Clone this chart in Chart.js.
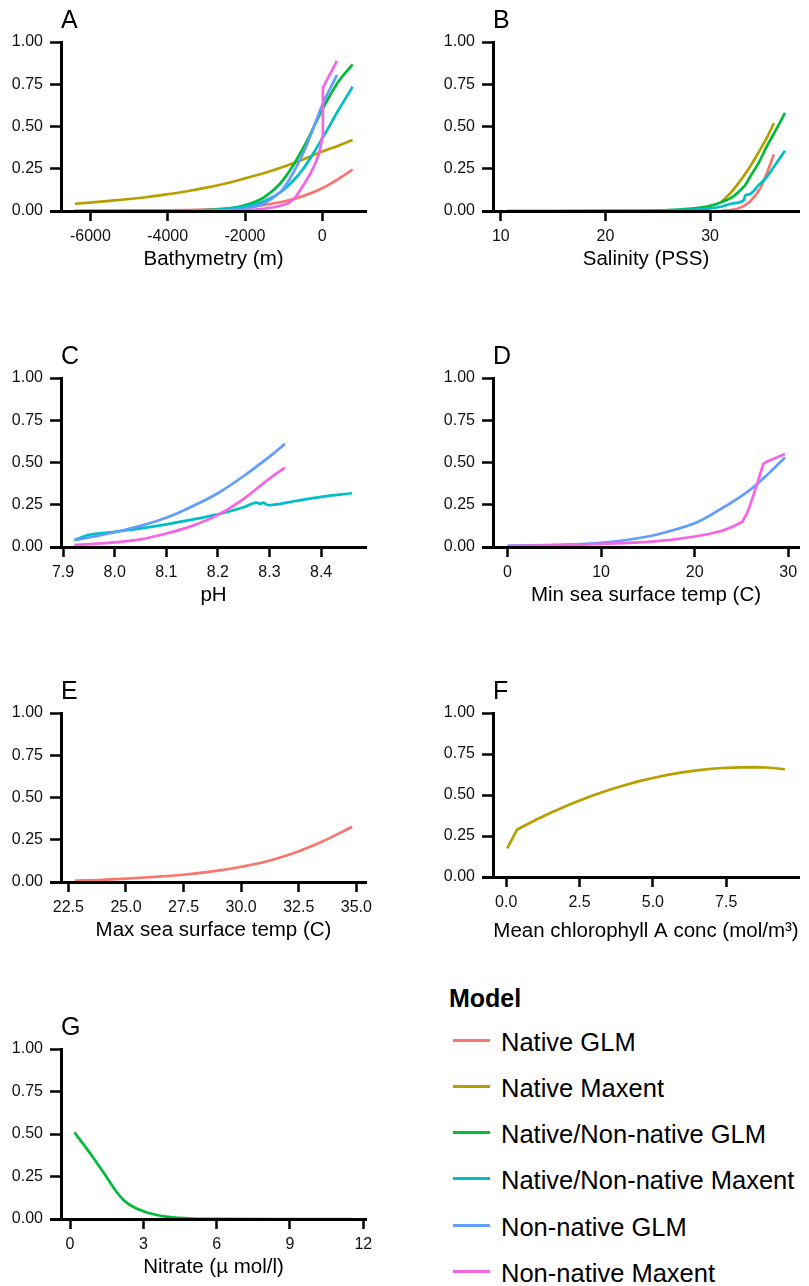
<!DOCTYPE html>
<html>
<head>
<meta charset="utf-8">
<script src="https://cdn.jsdelivr.net/npm/chart.js"></script>
<style>
body { margin: 0; background: #fff; width: 809px; height: 1286px; position: relative; overflow: hidden;
       font-family: "Liberation Sans", Arial, sans-serif; }
canvas { position: absolute; }
.lgTitle { position: absolute; left: 449px; top: 983px; font-size: 25px; line-height: 30px; font-weight: bold; color: #000; }
.lg { position: absolute; left: 501px; font-size: 25.5px; line-height: 30px; white-space: nowrap; color: #000; }
.sw { position: absolute; left: 453px; width: 37px; height: 3px; }
</style>
</head>
<body>
<canvas id="pA"></canvas>
<canvas id="pB"></canvas>
<canvas id="pC"></canvas>
<canvas id="pD"></canvas>
<canvas id="pE"></canvas>
<canvas id="pF"></canvas>
<canvas id="pG"></canvas>
<div id="legend"></div>
<script>
// models and their colours (ggplot hue palette)
var models = ['Native GLM', 'Native Maxent', 'Native/Non-native GLM', 'Native/Non-native Maxent', 'Non-native GLM', 'Non-native Maxent'];
var colors = ['#F8766D', '#B79F00', '#00BA38', '#00BFC4', '#619CFF', '#F564E3'];
var yTicks = [0, 0.25, 0.5, 0.75, 1];

// A: bathymetry
var bathyTicks = [-6000, -4000, -2000, 0];
var bathyX = [-6400, -5500, -4600, -4000, -3500, -3000, -2500, -2000, -1500, -1000, -500, 0, 400, 784];
var bathyNativeGLM = [0.0003, 0.0008, 0.002, 0.0033, 0.0054, 0.0087, 0.014, 0.022, 0.036, 0.056, 0.088, 0.135, 0.187, 0.245];
var bathyNativeMaxent = [0.043, 0.06, 0.08, 0.099, 0.117, 0.138, 0.163, 0.193, 0.225, 0.262, 0.305, 0.352, 0.385, 0.42];
var bathyJointGLM = [0, 0, 0.0003, 0.0008, 0.002, 0.005, 0.0135, 0.034, 0.082, 0.187, 0.37, 0.6, 0.76, 0.868];
var bathyJointMaxent = [0, 0.0002, 0.0007, 0.0015, 0.003, 0.005, 0.012, 0.027, 0.059, 0.126, 0.248, 0.43, 0.59, 0.735];
var bathyNonX = [-4600, -4000, -3000, -2500, -2000, -1500, -1000, -500, -250, 0, 380];
var bathyNonGLM = [0, 0.0001, 0.0014, 0.0045, 0.014, 0.046, 0.136, 0.34, 0.48, 0.627, 0.805];
var bathyNonMaxX = [-4600, -3000, -2500, -2000, -1750, -1500, -1250, -1000, -850, -700, -570, -450, -310, -200, -100, -40, 0, 15, 380];
var bathyNonMaxent = [0, 0.001, 0.003, 0.006, 0.009, 0.014, 0.022, 0.035, 0.05, 0.08, 0.124, 0.167, 0.22, 0.272, 0.33, 0.385, 0.44, 0.73, 0.888];

// B: salinity
var salTicks = [10, 20, 30];
var salNativeX = [31.1, 32.0, 32.9, 33.8, 34.8, 35.4, 36.1];
var salNativeGLM = [0.002, 0.006, 0.02, 0.055, 0.134, 0.22, 0.335];
var salNativeMaxent = [0.055, 0.11, 0.18, 0.26, 0.365, 0.43, 0.52];
var salJointX = [10.6, 15, 20, 25, 27, 28.5, 30, 31, 32.2, 33.25, 33.35, 33.8, 34.6, 35.4, 36.3, 37.16];
var salJointGLM = [0, 0, 0.0003, 0.003, 0.008, 0.015, 0.03, 0.05, 0.085, 0.145, 0.152, 0.2, 0.28, 0.38, 0.48, 0.58];
var salJointMaxent = [0, 0, 0.0002, 0.002, 0.005, 0.009, 0.015, 0.025, 0.045, 0.066, 0.092, 0.1, 0.15, 0.2, 0.28, 0.357];

// C: pH
var phTicks = [7.9, 8.0, 8.1, 8.2, 8.3, 8.4];
var phJointX = [7.922, 7.945, 7.95, 8.0, 8.05, 8.1, 8.15, 8.2, 8.25, 8.275, 8.282, 8.288, 8.295, 8.3, 8.35, 8.4, 8.46];
var phJointMaxent = [0.042, 0.068, 0.072, 0.09, 0.11, 0.134, 0.162, 0.193, 0.235, 0.262, 0.255, 0.262, 0.25, 0.248, 0.272, 0.297, 0.318];
var phNonX = [7.922, 7.96, 8.0, 8.05, 8.1, 8.15, 8.2, 8.25, 8.3, 8.33];
var phNonGLM = [0.04, 0.062, 0.087, 0.125, 0.173, 0.24, 0.318, 0.42, 0.535, 0.61];
var phNonMaxent = [0.012, 0.018, 0.027, 0.045, 0.08, 0.125, 0.19, 0.285, 0.405, 0.47];

// D: min sea surface temp
var sstMinTicks = [0, 10, 20, 30];
var sstMinX = [0, 5, 10, 15, 18, 20, 22.5, 25.1, 26.3, 27.33, 28, 29.66];
var sstMinNonGLM = [0.008, 0.013, 0.025, 0.062, 0.105, 0.14, 0.215, 0.305, 0.355, 0.405, 0.44, 0.53];
var sstMinMaxX = [0, 2.5, 5, 7.5, 10, 12.5, 15, 17.5, 20, 21.5, 23, 24, 25.1, 25.6, 26.0, 26.7, 27.33, 27.7, 29.66];
var sstMinNonMaxent = [0.006, 0.008, 0.01, 0.013, 0.018, 0.023, 0.03, 0.042, 0.062, 0.077, 0.097, 0.118, 0.15, 0.2, 0.26, 0.377, 0.49, 0.505, 0.55];

// E: max sea surface temp
var sstMaxTicks = [22.5, 25, 27.5, 30, 32.5, 35];
var sstMaxX = [22.79, 24, 25, 26, 27.5, 29, 30, 31, 32, 32.5, 33.5, 34.82];
var sstMaxNativeGLM = [0.008, 0.013, 0.02, 0.028, 0.043, 0.067, 0.09, 0.118, 0.158, 0.182, 0.238, 0.327];

// F: mean chlorophyll A
var chlTicks = [0, 2.5, 5, 7.5];
var chlX = [0.035, 0.375, 1.0, 1.5, 2.0, 2.5, 3.0, 3.5, 4.0, 4.5, 5.0, 5.5, 6.0, 6.5, 7.0, 7.5, 8.0, 8.5, 9.0, 9.5];
var chlNativeMaxent = [0.174, 0.29, 0.348, 0.39, 0.43, 0.466, 0.5, 0.531, 0.558, 0.583, 0.604, 0.623, 0.638, 0.65, 0.66, 0.666, 0.669, 0.67, 0.666, 0.657];

// G: nitrate
var nitTicks = [0, 3, 6, 9, 12];
var nitX = [0.18, 0.6, 1.0, 1.5, 1.9, 2.2, 2.5, 3.0, 3.5, 4.0, 5.0, 6.0, 8.0, 11.55];
var nitJointGLM = [0.51, 0.43, 0.35, 0.245, 0.16, 0.11, 0.078, 0.045, 0.025, 0.013, 0.003, 0.0005, 0, 0];

var FONT = '"Liberation Sans", Arial, sans-serif';
Chart.defaults.font.family = FONT;

function series(m, xs, ys, straight) {
  var ds = {
    label: models[m],
    data: xs.map(function (x, i) { return {x: x, y: ys[i]}; }),
    borderColor: colors[m],
    backgroundColor: colors[m],
    order: 5 - m
  };
  // kinked curves are drawn as plain polylines
  if (straight) {
    ds.cubicInterpolationMode = 'default';
    ds.tension = 0;
  }
  return ds;
}

// panel letter and the small stub of x axis left of the y axis
var panelDecor = {
  id: 'panelDecor',
  afterDraw: function (chart, args, opts) {
    var ctx = chart.ctx, a = chart.chartArea;
    var yb = Math.round(a.bottom - 1.5) + 1.5;
    ctx.save();
    ctx.strokeStyle = '#000';
    ctx.lineWidth = 3;
    ctx.beginPath();
    ctx.moveTo(a.left - 11, yb);
    ctx.lineTo(a.left + 1, yb);
    ctx.stroke();
    ctx.fillStyle = '#000';
    ctx.font = '25px ' + FONT;
    ctx.textBaseline = 'alphabetic';
    ctx.fillText(opts.letter, a.left, a.top - 14);
    ctx.restore();
  }
};

var panels = [
  {id: 'pA', letter: 'A', left: 0, top: 42, right: 366, h: 169, hx: 65, xmin: -6760, xmax: 1130, ticks: bathyTicks, dec: 0,
   title: 'Bathymetry (m)',
   sets: [series(0, bathyX, bathyNativeGLM), series(1, bathyX, bathyNativeMaxent), series(2, bathyX, bathyJointGLM),
          series(3, bathyX, bathyJointMaxent), series(4, bathyNonX, bathyNonGLM), series(5, bathyNonMaxX, bathyNonMaxent, true)]},
  {id: 'pB', letter: 'B', left: 432, top: 42, right: 799, h: 169, hx: 65, xmin: 9.25, xmax: 38.5, ticks: salTicks, dec: 0,
   title: 'Salinity (PSS)',
   sets: [series(0, salNativeX, salNativeGLM), series(1, salNativeX, salNativeMaxent),
          series(2, salJointX, salJointGLM), series(3, salJointX, salJointMaxent)]},
  {id: 'pC', letter: 'C', left: 0, top: 378, right: 366, h: 169, hx: 65, xmin: 7.896, xmax: 8.487, ticks: phTicks, dec: 1,
   title: 'pH',
   sets: [series(3, phJointX, phJointMaxent), series(4, phNonX, phNonGLM), series(5, phNonX, phNonMaxent)]},
  {id: 'pD', letter: 'D', left: 432, top: 378, right: 799, h: 169, hx: 65, xmin: -1.55, xmax: 31.15, ticks: sstMinTicks, dec: 0,
   title: 'Min sea surface temp (C)',
   sets: [series(4, sstMinX, sstMinNonGLM), series(5, sstMinMaxX, sstMinNonMaxent, true)]},
  {id: 'pE', letter: 'E', left: 0, top: 713, right: 366, h: 169, hx: 65, xmin: 22.18, xmax: 35.42, ticks: sstMaxTicks, dec: 1,
   title: 'Max sea surface temp (C)',
   sets: [series(0, sstMaxX, sstMaxNativeGLM)]},
  {id: 'pF', letter: 'F', left: 432, top: 713, right: 799, h: 164, hx: 71, xmin: -0.45, xmax: 9.98, ticks: chlTicks, dec: 1,
   title: 'Mean chlorophyll A conc (mol/m\u00b3)',
   sets: [series(1, chlX, chlNativeMaxent, true)]},
  {id: 'pG', letter: 'G', left: 0, top: 1049, right: 366, h: 170, hx: 65, xmin: -0.37, xmax: 12.11, ticks: nitTicks, dec: 0,
   title: 'Nitrate (\u00b5 mol/l)',
   sets: [series(2, nitX, nitJointGLM)]}
];

var PAD_TOP = 40, Y_W = 61;

panels.forEach(function (p) {
  var cv = document.getElementById(p.id);
  var padRight = p.left === 0 ? 24 : 10;
  var w = p.right - p.left + padRight;
  var h = PAD_TOP + p.h + p.hx;
  cv.width = w;
  cv.height = h;
  cv.style.left = p.left + 'px';
  cv.style.top = (p.top - PAD_TOP) + 'px';
  cv.style.width = w + 'px';
  cv.style.height = h + 'px';

  new Chart(cv, {
    type: 'line',
    data: {datasets: p.sets},
    plugins: [panelDecor],
    options: {
      responsive: false,
      animation: false,
      devicePixelRatio: 1,
      layout: {padding: {top: PAD_TOP, right: padRight, left: 0, bottom: 0}},
      elements: {
        point: {radius: 0},
        line: {borderWidth: 2.7, cubicInterpolationMode: 'monotone', fill: false}
      },
      plugins: {
        legend: {display: false},
        tooltip: {enabled: false},
        panelDecor: {letter: p.letter}
      },
      scales: {
        x: {
          type: 'linear',
          min: p.xmin,
          max: p.xmax,
          afterBuildTicks: function (s) { s.ticks = p.ticks.map(function (v) { return {value: v}; }); },
          afterFit: function (s) { s.height = p.hx; },
          ticks: {
            autoSkip: false, maxRotation: 0, padding: 6, color: '#111',
            font: {size: 16},
            callback: function (v) { return Number(v).toFixed(p.dec); }
          },
          grid: {display: true, drawOnChartArea: false, drawTicks: true, tickLength: 10, tickWidth: 2.5, tickColor: '#000', color: '#000'},
          border: {display: true, color: '#000', width: 3, z: 1},
          title: {display: true, text: p.title, color: '#000', font: {size: 20.5}, padding: {top: 0, bottom: 4}}
        },
        y: {
          type: 'linear',
          min: 0,
          max: 1,
          afterBuildTicks: function (s) { s.ticks = yTicks.map(function (v) { return {value: v}; }); },
          afterFit: function (s) { s.width = Y_W; },
          ticks: {
            padding: 7, color: '#111',
            font: {size: 16},
            callback: function (v) { return Number(v).toFixed(2); }
          },
          grid: {display: true, drawOnChartArea: false, drawTicks: true, tickLength: 11, tickWidth: 2.5, tickColor: '#000', color: '#000'},
          border: {display: true, color: '#000', width: 3, z: 1}
        }
      }
    }
  });
});

// shared legend
var lg = document.getElementById('legend');
var head = document.createElement('div');
head.className = 'lgTitle';
head.textContent = 'Model';
lg.appendChild(head);
var legendY = [1042, 1088, 1134, 1180, 1226.5, 1273];
models.forEach(function (m, i) {
  var sw = document.createElement('div');
  sw.className = 'sw';
  sw.style.top = (legendY[i] - 3) + 'px';
  sw.style.background = colors[i];
  lg.appendChild(sw);
  var t = document.createElement('div');
  t.className = 'lg';
  t.style.top = (legendY[i] - 15) + 'px';
  t.textContent = m;
  lg.appendChild(t);
});
</script>
</body>
</html>
